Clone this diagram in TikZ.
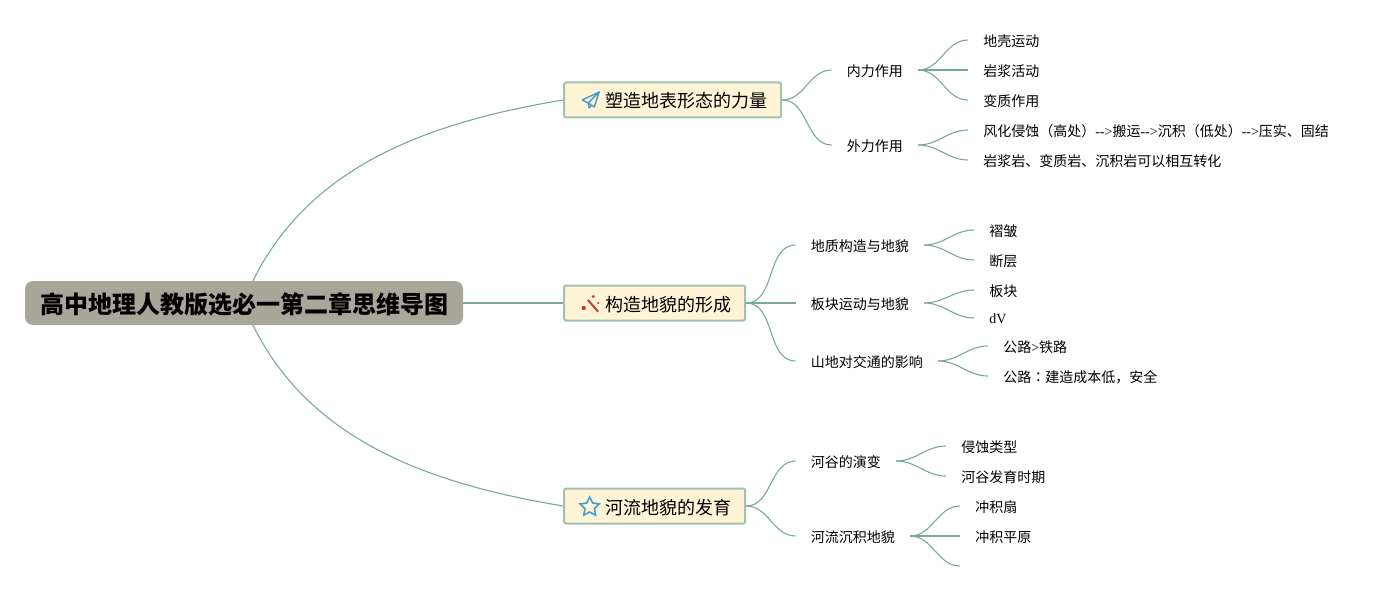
\documentclass[tikz,border=0pt]{standalone}
\usepackage{fontspec}
\setmainfont{Noto Sans CJK SC}
\newfontfamily\latinfont{Liberation Serif}
\newfontfamily\tcfont{Noto Sans CJK TC}
\usetikzlibrary{positioning, shapes.geometric}
\definecolor{linecol}{HTML}{7BA898}
\definecolor{rootcol}{HTML}{A9A799}
\definecolor{topiccol}{HTML}{FFF5D6}
\definecolor{bordercol}{HTML}{A3C2AE}
\definecolor{bluecol}{HTML}{3F9FD0}
\definecolor{redcol}{HTML}{C8392B}
\newcommand{\lat}[1]{{\latinfont #1}}

\begin{document}
\begin{tikzpicture}[
            x = 1pt,
            y = -1pt,
            node distance = 50pt,
            root/.style = {fill=rootcol, rounded corners=8pt, inner xsep=15pt, inner ysep=0pt,
                minimum height=44pt, text height=23pt, text depth=2pt,
                font=\fontsize{24}{24}\selectfont\bfseries},
            topic/.style = {draw=bordercol, line width=2pt, fill=topiccol, rounded corners=2pt,
                inner xsep=14pt, inner ysep=0pt, minimum height=35pt, text height=18pt, text depth=2pt,
                font=\fontsize{18}{18}\selectfont},
            sub/.style = {inner xsep=15pt, inner ysep=0pt, text height=15pt, text depth=2pt,
                font=\fontsize{14}{14}\selectfont},
            branch/.style = {draw=linecol, line width=1.1pt},
            link/.style = {out=0, in=180},
            plane/.style = {draw=bluecol, line width=1.4pt, line join=round},
            wand/.style = {draw=redcol, line width=2pt},
            spark/.style = {fill=redcol}
        ]
        \useasboundingbox (0,0) rectangle (1389,591);

        \node[root] (R) at (244,303) {高中地理人教版选必一第二章思维导图};
        \node[topic, right=100pt of R] (T2) {\hspace{27pt}构造地貌的形成};
        \node[topic, right=100pt of R, yshift=203pt] (T1) {\hspace{27pt}塑造地表形态的力量};
        \node[topic, right=100pt of R, yshift=-203pt] (T3) {\hspace{27pt}河流地貌的发育};

        % first topic
        \node[sub, right=49.5pt of T1, yshift=30pt] (A1) {内力作用};
        \node[sub, right=49.5pt of T1, yshift=-45pt] (A2) {外力作用};
        \node[sub, right=of A1, yshift=30pt] (A11) {地壳运动};
        \node[sub, right=of A1] (A12) {岩浆活动};
        \node[sub, right=of A1, yshift=-30pt] (A13) {变质作用};
        \node[sub, right=of A2, yshift=15pt] (A21) {风化侵蚀（高处）\lat{-{}->}搬运\lat{-{}->}沉积（低处）\lat{-{}->}压实、固结};
        \node[sub, right=of A2, yshift=-15pt] (A22) {岩浆岩、变质岩、沉积岩可以相互转化};

        % second topic
        \node[sub, right=49.5pt of T2, yshift=58pt] (B1) {地质构造与地貌};
        \node[sub, right=49.5pt of T2] (B2) {板块运动与地貌};
        \node[sub, right=49.5pt of T2, yshift=-58pt] (B3) {山地对交通的影响};
        \node[sub, right=of B1, yshift=15pt] (B11) {褶皱};
        \node[sub, right=of B1, yshift=-15pt] (B12) {断层};
        \node[sub, right=of B2, yshift=13pt] (B21) {板块};
        \node[sub, right=of B2, yshift=-15pt] (B22) {\raisebox{1pt}{\lat{dV}}};
        \node[sub, right=of B3, yshift=15pt] (B31) {公路\lat{>}铁路};
        \node[sub, right=of B3, yshift=-15pt] (B32) {公路{\tcfont ：}建造成本低，安全};

        % third topic
        \node[sub, right=49.5pt of T3, yshift=45pt] (C1) {河谷的演变};
        \node[sub, right=49.5pt of T3, yshift=-30pt] (C2) {河流沉积地貌};
        \node[sub, right=of C1, yshift=15pt] (C11) {侵蚀类型};
        \node[sub, right=of C1, yshift=-15pt] (C12) {河谷发育时期};
        \node[sub, right=of C2, yshift=30pt] (C21) {冲积扇};
        \node[sub, right=of C2] (C22) {冲积平原};
        \coordinate[right=of C2, yshift=-30pt] (C23);

        % icons
        \draw[plane, shift={(T1.west)}] (36,-8) -- (19,0) -- (25,3) -- (36,-8) -- (31,7) -- (25,3) -- (26,8) -- (28.5,5);
        \draw[wand, shift={(T2.west)}] (24.7,-3) -- (35,8.7);
        \fill[spark, shift={(T2.west)}] (20.5,5) circle (2.2) (30,-6.5) circle (1.6) (35,0) circle (1.2);
        \node[star, star points=5, star point ratio=2, draw=bluecol, line width=1.6pt, inner sep=0pt,
            minimum size=20pt, right=19pt of T3.west, yshift=-1pt] (S) {};

        \path[branch] ([xshift=9pt]R.north) .. controls (310,165) and (430,122) .. (T1.west);
        \path[branch] ([xshift=9pt]R.south) .. controls (310,441) and (430,484) .. (T3.west);
        \path[branch] (R) edge (T2);

        \path[branch] (T1.east) edge[link] (A1.west);
        \path[branch] (T1.east) edge[link] (A2.west);
        \path[branch] (T2.east) edge[link] (B1.west);
        \path[branch] (T2.east) edge[link] (B2.west);
        \path[branch] (T2.east) edge[link] (B3.west);
        \path[branch] (T3.east) edge[link] (C1.west);
        \path[branch] (T3.east) edge[link] (C2.west);

        \path[branch] (A1.east) edge[link] (A11.west);
        \path[branch] (A1.east) edge[link] (A12.west);
        \path[branch] (A1.east) edge[link] (A13.west);
        \path[branch] (A2.east) edge[link] (A21.west);
        \path[branch] (A2.east) edge[link] (A22.west);
        \path[branch] (B1.east) edge[link] (B11.west);
        \path[branch] (B1.east) edge[link] (B12.west);
        \path[branch] (B2.east) edge[link] (B21.west);
        \path[branch] (B2.east) edge[link] (B22.west);
        \path[branch] (B3.east) edge[link] (B31.west);
        \path[branch] (B3.east) edge[link] (B32.west);
        \path[branch] (C1.east) edge[link] (C11.west);
        \path[branch] (C1.east) edge[link] (C12.west);
        \path[branch] (C2.east) edge[link] (C21.west);
        \path[branch] (C2.east) edge[link] (C22.west);
        \path[branch] (C2.east) edge[link] (C23);
    \end{tikzpicture}
\end{document}
